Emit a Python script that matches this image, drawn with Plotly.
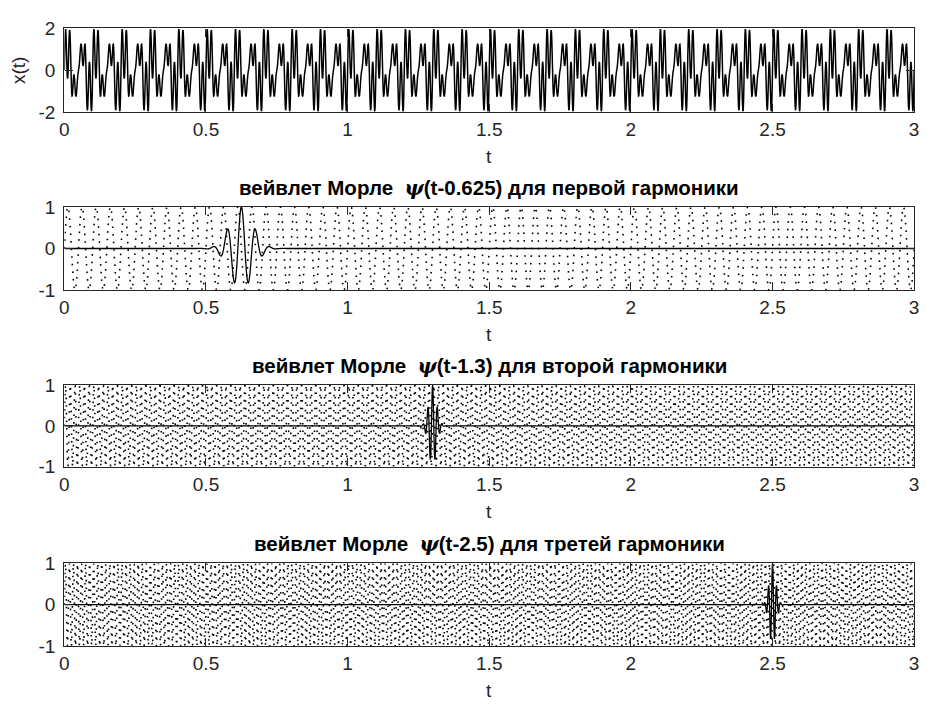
import numpy as np
import plotly.graph_objects as go

# time grid, s
t_start, t_stop, t_step = 0.0, 3.0, 0.001

# harmonics of the test signal
harmonic_freqs = [20.0, 60.0, 70.0]     # Hz
harmonic_amps = [1.0, 0.75, 0.75]       # weights inside x(t)

# Morlet wavelet shifts, one per harmonic
wavelet_shifts = [0.625, 1.3, 2.5]
morlet_w0 = 5.0

panel_titles = [
    "вейвлет Морле  {psi}(t-0.625) для первой гармоники",
    "вейвлет Морле  {psi}(t-1.3) для второй гармоники",
    "вейвлет Морле  {psi}(t-2.5) для третей гармоники",
]
x_ticks = [0, 0.5, 1, 1.5, 2, 2.5, 3]
x_tick_text = ["0", "0.5", "1", "1.5", "2", "2.5", "3"]
y_ticks_signal = [-2, 0, 2]
y_ticks_wavelet = [-1, 0, 1]

t = np.arange(t_start, t_stop + t_step / 2, t_step)
unit_harmonics = [np.sin(2 * np.pi * f * t) for f in harmonic_freqs]
signal = np.sum([a * h for a, h in zip(harmonic_amps, unit_harmonics)], axis=0)


def morlet(tt, shift, freq):
    scale = morlet_w0 / (2 * np.pi * freq)
    u = (tt - shift) / scale
    return np.exp(-u ** 2 / 2) * np.cos(morlet_w0 * u)


W, H = 933, 711
left_px, right_px = 60, 919
panel_px = [(19, 105), (203, 288.5), (386.5, 470.5), (570, 655.5)]

AX = "#262626"
FONT = "Liberation Sans, Arial, sans-serif"
FS = 19

fig = go.Figure()

fig.add_trace(go.Scatter(x=t, y=signal, mode="lines",
                         line=dict(color="black", width=1.5, simplify=False),
                         xaxis="x", yaxis="y", showlegend=False))

for i, (shift, freq, harm) in enumerate(zip(wavelet_shifts, harmonic_freqs, unit_harmonics)):
    k = i + 2
    fig.add_trace(go.Scatter(x=t, y=harm, mode="lines",
                             line=dict(color="black", width=1.6, dash="1.6px,6px", simplify=False),
                             xaxis=f"x{k}", yaxis=f"y{k}", showlegend=False))
    fig.add_trace(go.Scatter(x=t, y=morlet(t, shift, freq), mode="lines",
                             line=dict(color="black", width=1.3, simplify=False),
                             xaxis=f"x{k}", yaxis=f"y{k}", showlegend=False))

layout = dict(
    width=W, height=H,
    margin=dict(l=0, r=0, t=0, b=0),
    paper_bgcolor="white", plot_bgcolor="white",
    font=dict(family=FONT, size=FS, color=AX),
    annotations=[],
)

xdom = [left_px / W, right_px / W]
for i, (top, bot) in enumerate(panel_px):
    k = i + 1
    suffix = "" if k == 1 else str(k)
    ydom = [1 - bot / H, 1 - top / H]
    common = dict(showline=True, linecolor=AX, linewidth=1.3, mirror="ticks",
                  ticks="inside", ticklen=8, tickcolor=AX, tickwidth=1.3,
                  showgrid=False, zeroline=False,
                  tickfont=dict(family=FONT, size=FS, color=AX))
    layout[f"xaxis{suffix}"] = dict(domain=xdom, range=[0, 3], tickvals=x_ticks,
                                    ticktext=x_tick_text, anchor=f"y{suffix}", **common)
    yt = y_ticks_signal if k == 1 else y_ticks_wavelet
    layout[f"yaxis{suffix}"] = dict(domain=ydom, range=[yt[0], yt[-1]], tickvals=yt,
                                    ticktext=[str(v) for v in yt], ticklabelstandoff=4,
                                    anchor=f"x{suffix}", **common)
    # axis label under each panel
    layout["annotations"].append(dict(
        text="t", xref="paper", yref="paper", x=(left_px + right_px) / 2 / W,
        y=1 - (bot + 46) / H, showarrow=False, xanchor="center", yanchor="middle",
        font=dict(family=FONT, size=FS, color=AX)))
    if k > 1:
        psi = "<span style='font-family:DejaVu Serif'><i>ψ</i></span>"
        layout["annotations"].append(dict(
            text="<b>" + panel_titles[i - 1].format(psi=psi) + "</b>",
            xref="paper", yref="paper", x=(left_px + right_px) / 2 / W,
            y=1 - (top - 20) / H, showarrow=False, xanchor="center", yanchor="middle",
            font=dict(family=FONT, size=20.5, color="black")))

layout["annotations"].append(dict(
    text="x(t)", xref="paper", yref="paper", x=13 / W, y=1 - 62 / H,
    showarrow=False, textangle=-90, xanchor="center", yanchor="middle",
    font=dict(family=FONT, size=FS, color=AX)))

fig.update_layout(**layout)
fig.write_html("out.html")
